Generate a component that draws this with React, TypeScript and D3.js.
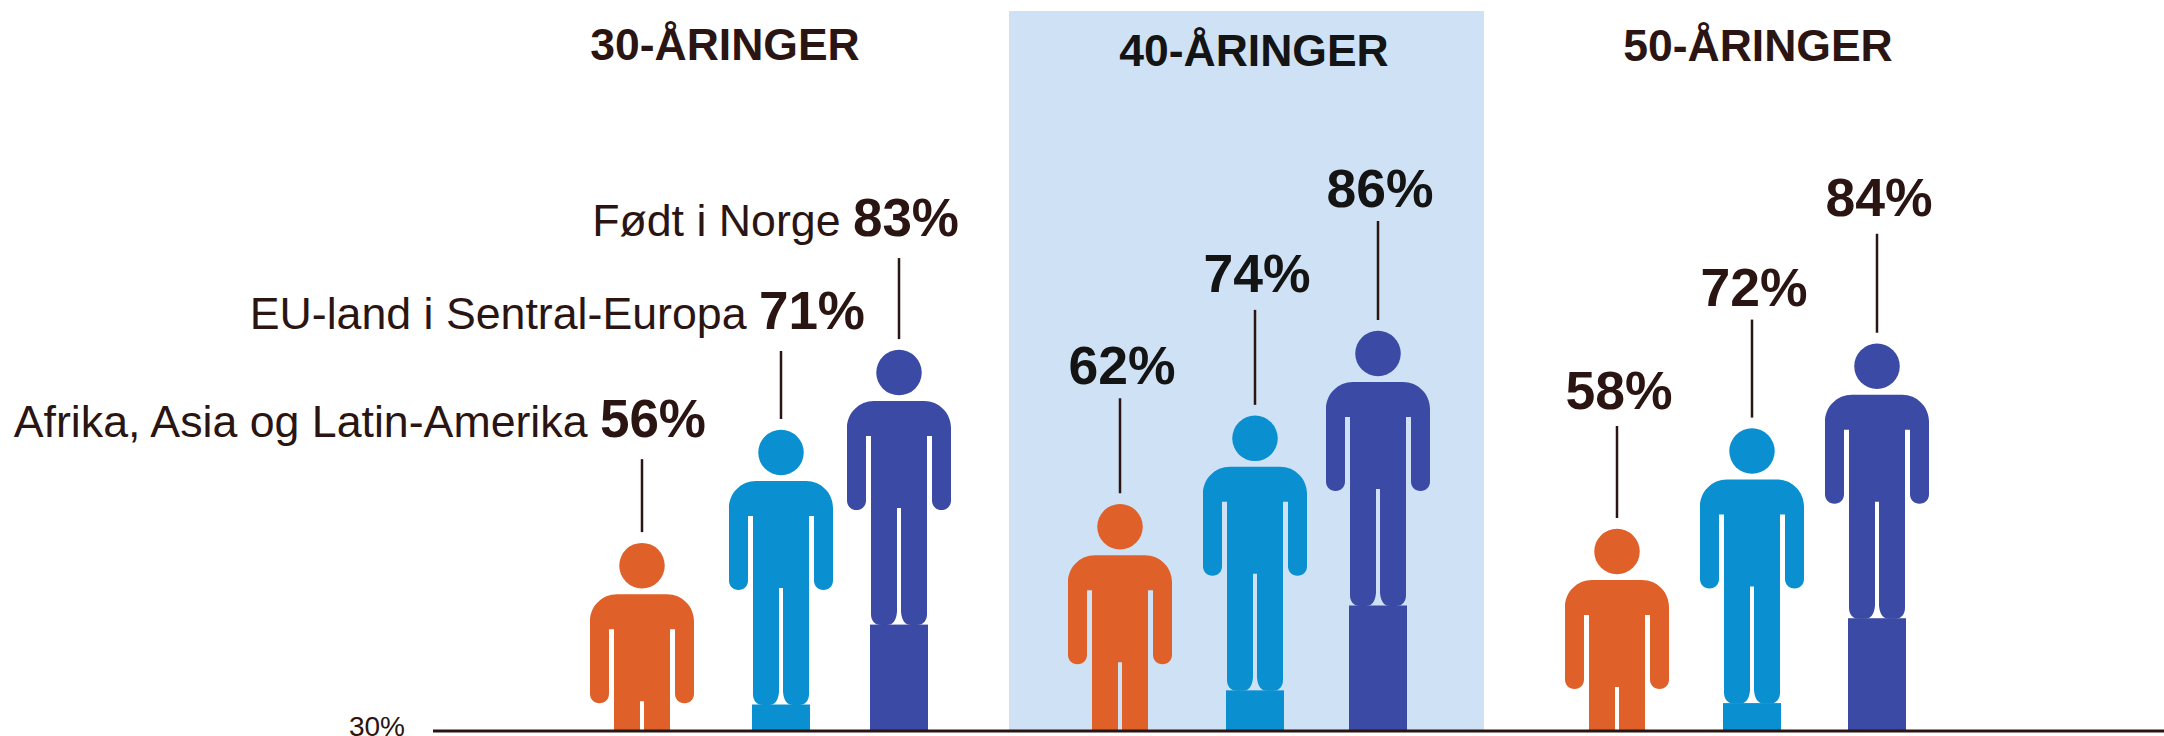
import React from "react";
import * as d3 from "d3";

const groups = ["30-ÅRINGER", "40-ÅRINGER", "50-ÅRINGER"];
const seriesNames = ["Afrika, Asia og Latin-Amerika", "EU-land i Sentral-Europa", "Født i Norge"];
const labelValues = [[56, 71, 83], [62, 74, 86], [58, 72, 84]];
// Figure heights as they read against the axis (the source draws 71 about level with 72)
const figureValues = [[56, 72, 83.3], [61.5, 74, 86], [58, 72.2, 84.2]];
const stemLengths = [[73, 68, 81], [95, 95, 99], [92, 98, 99]];
const labelGaps = [[22, 22, 22], [14, 18, 14], [17, 14, 18]];
const axisLabel = "30%";
const seriesColors = ["#e0602a", "#0a90d0", "#3b4aa4"];

const W = 2164;
const H = 736;
const BASE = 730;
const INK = "#2a1512";
const FONT = "'Liberation Sans', Arial, sans-serif";

const y = d3.scaleLinear().domain([30, 86]).range([727, 331]);
const xPos = [
  d3.scaleOrdinal<number, number>().domain([0, 1, 2]).range([642, 781, 899]),
  d3.scaleOrdinal<number, number>().domain([0, 1, 2]).range([1120, 1255, 1378]),
  d3.scaleOrdinal<number, number>().domain([0, 1, 2]).range([1617, 1752, 1877]),
];
const titleX = d3.scaleOrdinal<string, number>().domain(groups).range([725, 1254, 1758]);
const titleY = d3.scaleOrdinal<string, number>().domain(groups).range([60, 66, 61]);

// Pictogram outline, in pixels from the top of the head on the figure's centre line.
function bodyPath(): string {
  const p = d3.path();
  const side = (s: number) => {
    p.moveTo(0, 51);
    p.lineTo(s * 25, 51);
    p.bezierCurveTo(s * 40, 51, s * 52, 63, s * 52, 78);
    p.lineTo(s * 52, 150.5);
    p.bezierCurveTo(s * 52, 156, s * 48, 160, s * 42.5, 160);
    p.bezierCurveTo(s * 37, 160, s * 33, 156, s * 33, 150.5);
    p.lineTo(s * 33, 86);
    p.lineTo(s * 28, 86);
    p.lineTo(s * 28, 264);
    p.bezierCurveTo(s * 28, 270, s * 25, 275, s * 18, 275);
    p.lineTo(s * 12, 275);
    p.bezierCurveTo(s * 7, 275, s * 3, 272, s * 2, 262);
    p.lineTo(s * 2, 158);
    p.lineTo(0, 158);
    p.closePath();
  };
  side(-1);
  side(1);
  return p.toString();
}
const BODY = bodyPath();

export default function App() {
  return (
    <svg
      width={W}
      height={H}
      viewBox={`0 0 ${W} ${H}`}
      style={{ position: "absolute", left: 0, top: 0, background: "#fff", fontFamily: FONT }}
    >
      <defs>
        <clipPath id="plot">
          <rect x={0} y={0} width={W} height={BASE} />
        </clipPath>
      </defs>
      <rect x={1009} y={11} width={475} height={BASE - 11} fill="#cfe2f5" />
      {groups.map((g) => (
        <text
          key={g}
          x={titleX(g)}
          y={titleY(g)}
          textAnchor="middle"
          fontSize={44.5}
          fontWeight={700}
          fill={g === groups[1] ? "#141414" : INK}
        >
          {g}
        </text>
      ))}
      {groups.map((g, gi) =>
        seriesNames.map((s, si) => {
          const cx = xPos[gi](si);
          const top = y(figureValues[gi][si]);
          const stemEnd = top - 11;
          const stemStart = stemEnd - stemLengths[gi][si];
          const color = seriesColors[si];
          const footY = top + 274.5;
          return (
            <g key={g + s}>
              <g clipPath="url(#plot)">
                <circle cx={cx} cy={top + 22.5} r={22.75} fill={color} />
                <path d={BODY} transform={`translate(${cx},${top})`} fill={color} />
                {footY < BASE && (
                  <rect x={cx - 29} y={footY} width={58} height={BASE - footY} fill={color} />
                )}
              </g>
              <line x1={cx} x2={cx} y1={stemStart} y2={stemEnd} stroke={INK} strokeWidth={2.5} />
              {gi === 0 ? (
                <text
                  x={cx + (si === 0 ? 64 : si === 1 ? 84 : 60)}
                  y={stemStart - labelGaps[gi][si]}
                  textAnchor="end"
                  fill={INK}
                  fontSize={44.7}
                >
                  {s + " "}
                  <tspan fontWeight={700} fontSize={53}>{labelValues[gi][si]}%</tspan>
                </text>
              ) : (
                <text
                  x={cx + 2}
                  y={stemStart - labelGaps[gi][si]}
                  textAnchor="middle"
                  fill={gi === 1 ? "#141414" : INK}
                  fontWeight={700}
                  fontSize={53.5}
                >
                  {labelValues[gi][si]}%
                </text>
              )}
            </g>
          );
        })
      )}
      <line x1={433} x2={W} y1={BASE + 1} y2={BASE + 1} stroke={INK} strokeWidth={3} />
      <text x={377} y={735.5} textAnchor="middle" fontSize={28} fill={INK}>{axisLabel}</text>
    </svg>
  );
}
